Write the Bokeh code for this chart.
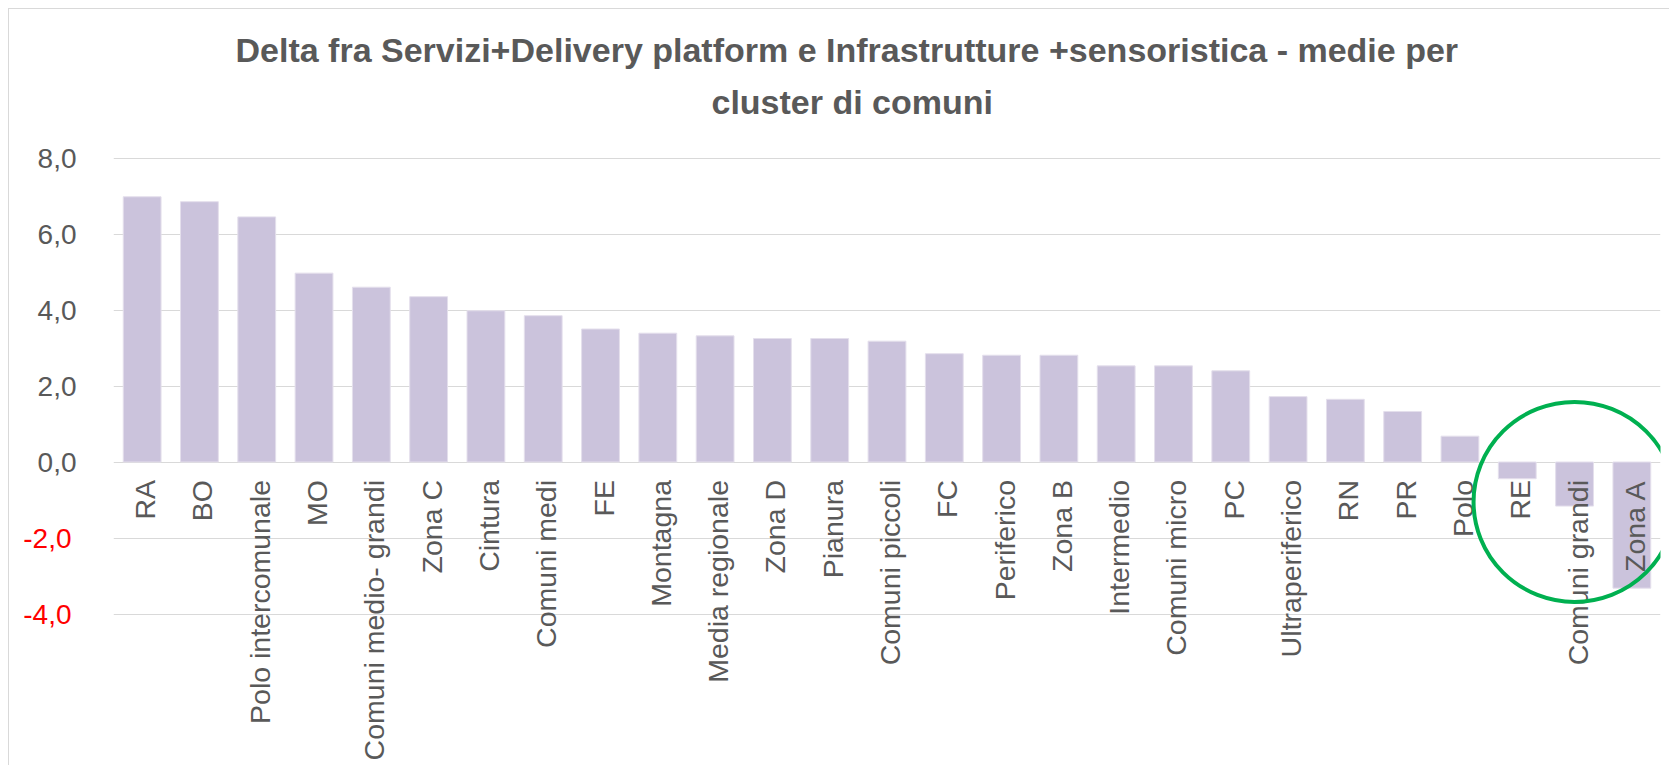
import math
from bokeh.plotting import figure
from bokeh.models import (FactorRange, Range1d, FixedTicker, LinearAxis, Title,
                          CustomJSTickFormatter, ColumnDataSource)
from bokeh.core.properties import value
from bokeh.embed import file_html
from bokeh.resources import INLINE

# ---------------- data ----------------
categories = ["RA", "BO", "Polo intercomunale", "MO", "Comuni medio- grandi", "Zona C",
              "Cintura", "Comuni medi", "FE", "Montagna", "Media regionale", "Zona D",
              "Pianura", "Comuni piccoli", "FC", "Periferico", "Zona B", "Intermedio",
              "Comuni micro", "PC", "Ultraperiferico", "RN", "PR", "Polo", "RE",
              "Comuni grandi", "Zona A"]
values = [6.98, 6.85, 6.45, 4.97, 4.60, 4.35, 3.98, 3.85, 3.50, 3.39, 3.32, 3.25,
          3.25, 3.18, 2.85, 2.81, 2.81, 2.53, 2.53, 2.40, 1.72, 1.65, 1.33, 0.68,
          -0.44, -1.16, -3.32]
pos_ticks = [0, 2, 4, 6, 8]
neg_ticks = [-4, -2]
title_line1 = "Delta fra Servizi+Delivery platform e Infrastrutture +sensoristica -  medie per"
title_line2 = "cluster di comuni"
highlight_cat = "Comuni grandi"
highlight_y = -1.05

# ---------------- layout ----------------
W, H = 1669, 765
TOP = 156            # frame top (px)
PX_PER_UNIT = 38.0
y_end = 8 + (157.5 - TOP) / PX_PER_UNIT
y_start = y_end - (H - TOP) / PX_PER_UNIT

GREY = "#595959"
BAR = "#cbc3dc"
LINE = "#d9d9d9"

p = figure(x_range=FactorRange(*categories, range_padding=0),
           y_range=Range1d(y_start, y_end),
           width=W, height=H, output_backend="svg", toolbar_location=None,
           min_border_left=113, min_border_right=9, min_border_bottom=0,
           min_border_top=TOP, title=None)
p.outline_line_color = None
p.background_fill_color = None
p.border_fill_color = None
p.styles = {
    "background": ("linear-gradient(%s,%s) 8px 8px / 1px 100%% no-repeat, "
                   "linear-gradient(%s,%s) 8px 8px / 100%% 1px no-repeat")
                  % (LINE, LINE, LINE, LINE)
}

src = ColumnDataSource(dict(cat=categories, val=values))
p.vbar(x="cat", top="val", bottom=0, width=0.66, source=src,
       fill_color=BAR, line_color="#e4dfec", line_width=1)

p.text(x="cat", y=0, text="cat", source=src, angle=math.pi / 2,
       text_align="right", text_baseline="middle", y_offset=18, x_offset=3,
       text_font=value("Liberation Sans"), text_font_size="28.5px",
       text_color=GREY)

p.ellipse(x=[highlight_cat], y=[highlight_y], width=202, height=200,
          width_units="screen", height_units="screen",
          fill_color=None, line_color="#00b050", line_width=4)

# grid
p.xgrid.visible = False
p.ygrid.ticker = FixedTicker(ticks=neg_ticks + pos_ticks)
p.ygrid.grid_line_color = LINE
p.ygrid.grid_line_width = 1

p.xaxis.visible = False

fmt = CustomJSTickFormatter(code="return tick.toFixed(1).replace('.', ',');")

S1 = 37


def style_axis(ax, color, standoff):
    ax.axis_line_color = None
    ax.major_tick_line_color = None
    ax.minor_tick_line_color = None
    ax.major_tick_in = 0
    ax.major_tick_out = 0
    ax.major_label_text_font = "Liberation Sans"
    ax.major_label_text_font_size = "28px"
    ax.major_label_text_color = color
    ax.major_label_standoff = standoff


ya = p.yaxis[0]
ya.ticker = FixedTicker(ticks=pos_ticks)
ya.formatter = fmt
style_axis(ya, GREY, S1)

ya2 = LinearAxis(ticker=FixedTicker(ticks=neg_ticks), formatter=fmt)
style_axis(ya2, "#ff0000", S1 - 74)
p.add_layout(ya2, "left")

# titles (stacked upward from the plot frame; first one is a blank spacer)
spacer = Title(text="\u00a0", standoff=28, text_font_size="1px",
               text_color="#ffffff")
t2 = Title(text=title_line2, align="left", offset=598, standoff=9,
           text_font="Liberation Sans", text_font_size="34px",
           text_font_style="bold", text_color=GREY)
t1 = Title(text=title_line1, align="left", offset=122, standoff=15,
           text_font="Liberation Sans", text_font_size="34px",
           text_font_style="bold", text_color=GREY)
p.add_layout(spacer, "above")
p.add_layout(t2, "above")
p.add_layout(t1, "above")

open("out.html", "w").write(file_html(p, INLINE))
